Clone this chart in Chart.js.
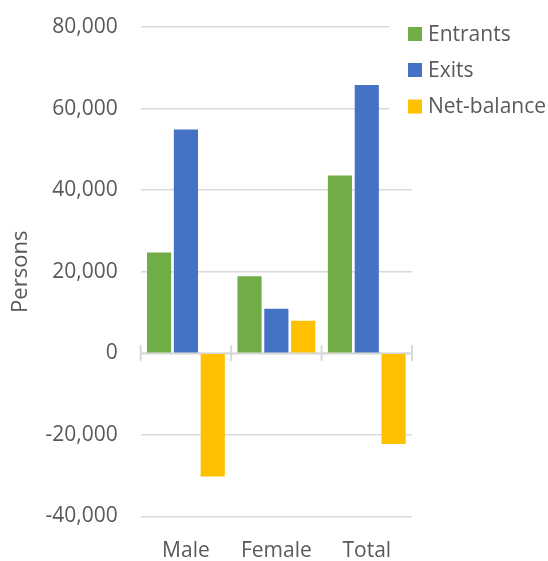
<!DOCTYPE html>
<html>
<head>
<meta charset="utf-8">
<script src="https://cdn.jsdelivr.net/npm/chart.js@4"></script>
<style>
html,body{margin:0;padding:0;background:#fff;}
#wrap{width:548px;height:561px;position:relative;}
</style>
</head>
<body>
<div id="wrap"><canvas id="c" width="548" height="561"></canvas></div>
<script>
const categories = ["Male", "Female", "Total"];
const seriesNames = ["Entrants", "Exits", "Net-balance"];
const entrants = [24700, 18900, 43600];
const exits = [54900, 10900, 65800];
const netBalance = [-30200, 8000, -22200];
const yTicks = [-40000, -20000, 0, 20000, 40000, 60000, 80000];
const colors = ["#70AD47", "#4472C4", "#FFC000"];

const FONT = "'Open Sans', 'DejaVu Sans', sans-serif";
const TEXT = "#595959";
const GRID = "#d9d9d9";

const overlay = {
  id: 'overlay',
  beforeDatasetsDraw(chart) {
    const ctx = chart.ctx;
    const xs = chart.scales.x, ys = chart.scales.y;
    ctx.save();
    // legend background covering gridlines
    ctx.fillStyle = '#ffffff';
    ctx.fillRect(389, 15, 548 - 389, 105);
    // zero line tick marks at category boundaries
    const y0 = ys.getPixelForValue(0);
    ctx.strokeStyle = GRID;
    ctx.lineWidth = 2;
    ctx.beginPath();
    ctx.moveTo(xs.left, y0);
    ctx.lineTo(xs.right, y0);
    const n = chart.data.labels.length;
    for (let i = 0; i <= n; i++) {
      const x = xs.left + i * (xs.right - xs.left) / n;
      ctx.moveTo(x, y0 - 8);
      ctx.lineTo(x, y0 + 8);
    }
    ctx.stroke();
    ctx.restore();
  },
  afterDraw(chart) {
    const ctx = chart.ctx;
    ctx.save();
    const ysPos = [34, 70, 106.5];
    chart.data.datasets.forEach((ds, i) => {
      ctx.fillStyle = ds.backgroundColor;
      ctx.fillRect(408, ysPos[i] - 7, 14, 14);
      ctx.fillStyle = TEXT;
      ctx.font = "21px " + FONT;
      ctx.textBaseline = 'middle';
      ctx.textAlign = 'left';
      ctx.fillText(ds.label, 428, ysPos[i] + 1);
    });
    ctx.restore();
  }
};

new Chart(document.getElementById('c'), {
  type: 'bar',
  data: {
    labels: categories,
    datasets: [
      { label: seriesNames[0], data: entrants, backgroundColor: colors[0] },
      { label: seriesNames[1], data: exits, backgroundColor: colors[1] },
      { label: seriesNames[2], data: netBalance, backgroundColor: colors[2] }
    ]
  },
  options: {
    responsive: false,
    animation: false,
    devicePixelRatio: 1,
    layout: { padding: { left: 0, right: 136, top: 27, bottom: 0 } },
    datasets: { bar: { categoryPercentage: 0.89, barPercentage: 0.9, borderWidth: 0 } },
    plugins: { legend: { display: false }, tooltip: { enabled: false } },
    scales: {
      x: {
        grid: { display: false },
        border: { display: false },
        ticks: { color: TEXT, font: { family: FONT, size: 21 }, padding: 14 },
        afterFit(s) { s.height = 44.5; s.paddingLeft = 0; s.paddingRight = 0; }
      },
      y: {
        min: -40000, max: 80000,
        afterBuildTicks(s) { s.ticks = yTicks.map(v => ({ value: v })); },
        grid: { color: GRID, lineWidth: 1.5, drawTicks: false },
        border: { display: false },
        ticks: {
          color: TEXT, font: { family: FONT, size: 21 }, padding: 23,
          callback: v => v.toLocaleString('en-US')
        },
        title: { display: true, text: 'Persons', color: TEXT, font: { family: FONT, size: 22 }, padding: { top: 8, bottom: 0 } },
        afterFit(s) { s.width = 140.7; s.paddingTop = 0; s.paddingBottom = 0; }
      }
    }
  },
  plugins: [overlay]
});
</script>
</body>
</html>
